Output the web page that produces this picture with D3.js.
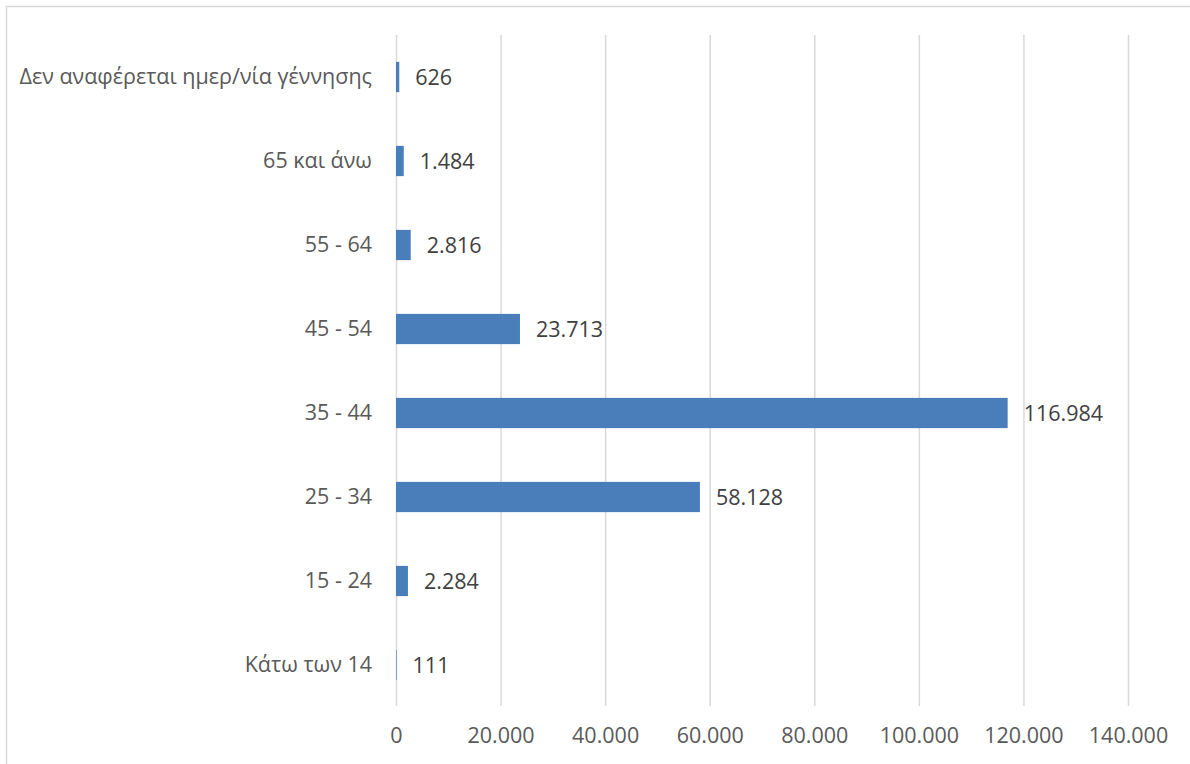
<!DOCTYPE html>
<html><head><meta charset="utf-8">
<script src="https://cdn.jsdelivr.net/npm/d3@7"></script>
<style>body{margin:0;background:#fff}svg{display:block}</style>
</head><body>
<script>
const categories = ["Δεν αναφέρεται ημερ/νία γέννησης","65 και άνω","55 - 64","45 - 54","35 - 44","25 - 34","15 - 24","Κάτω των 14"];
const values = [626,1484,2816,23713,116984,58128,2284,111];
const ticks = [0,20000,40000,60000,80000,100000,120000,140000];

const W=1190,H=764;
const svg=d3.select("body").append("svg").attr("width",W).attr("height",H);
svg.append("rect").attr("x",6.5).attr("y",6.5).attr("width",W+10).attr("height",H+10)
  .attr("fill","none").attr("stroke","#d9d9d9").attr("stroke-width",1.5);

const x=d3.scaleLinear().domain([0,140000]).range([396,1128]);
const y=d3.scaleBand().domain(categories).range([35,707]).paddingInner(0.64).paddingOuter(0.32);
const fmt=v=>d3.format(",")(v).replace(/,/g,".");
const font="'Open Sans', sans-serif";
const fs=21.5;

// gridlines
svg.append("g").selectAll("line").data(ticks).join("line")
  .attr("x1",d=>x(d)+0.5).attr("x2",d=>x(d)+0.5).attr("y1",35).attr("y2",706)
  .attr("stroke","#d9d9d9").attr("stroke-width",1.5);

// x axis labels
const xa=svg.append("g").attr("transform","translate(0,706)")
  .call(d3.axisBottom(x).tickValues(ticks).tickFormat(fmt).tickSize(0).tickPadding(22));
xa.select(".domain").remove();
xa.selectAll("text").attr("font-family",font).attr("font-size",fs).attr("fill","#595959");

// y axis labels
const ya=svg.append("g").attr("transform","translate(396,0)")
  .call(d3.axisLeft(y).tickSize(0).tickPadding(24));
ya.select(".domain").remove();
ya.selectAll("text").attr("font-family",font).attr("font-size",fs).attr("fill","#595959");

// bars
svg.append("g").selectAll("rect").data(values).join("rect")
  .attr("x",x(0)).attr("y",(d,i)=>y(categories[i]))
  .attr("width",d=>x(d)-x(0)).attr("height",y.bandwidth())
  .attr("fill","#4a7ebb");

// data labels
svg.append("g").selectAll("text").data(values).join("text")
  .attr("x",d=>x(d)+16).attr("y",(d,i)=>y(categories[i])+y.bandwidth()/2)
  .attr("dy","0.35em").attr("font-family",font).attr("font-size",fs).attr("fill","#404040")
  .text(fmt);
</script>
</body></html>
